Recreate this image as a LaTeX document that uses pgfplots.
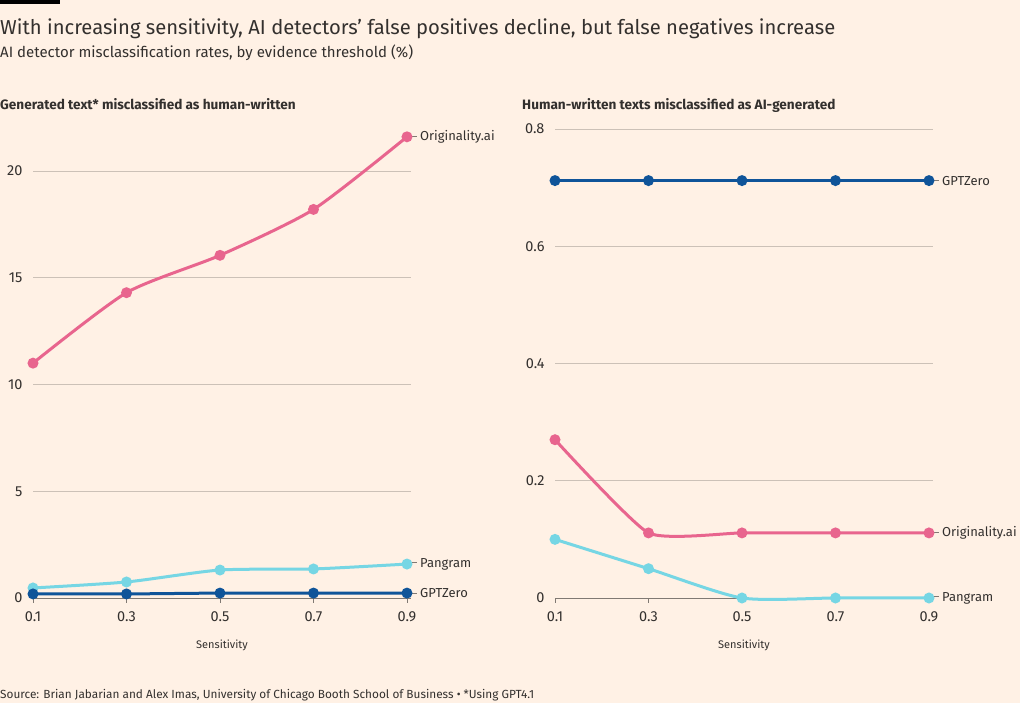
\documentclass[border=0pt]{standalone}
\usepackage{fontspec}
\setmainfont{Fira Sans}
\usepackage{pgfplots}
\pgfplotsset{compat=1.18}
\definecolor{bg}{HTML}{FFF1E5}
\definecolor{txt}{HTML}{33302E}
\definecolor{gridc}{HTML}{CCC1B7}
\definecolor{axisc}{HTML}{807973}
\definecolor{pinkc}{HTML}{E8658E}
\definecolor{bluec}{HTML}{0F5499}
\definecolor{cyanc}{HTML}{76D6E4}
\pgfplotsset{
  ftaxis/.style={
    scale only axis, width=378pt,
    xmin=0.1, xmax=0.9086, ymin=0,
    clip=false,
    axis x line*=bottom, axis y line*=left,
    x axis line style={draw=axisc, line width=0.8pt, -},
    y axis line style={draw=none},
    ymajorgrids, grid style={gridc, line width=0.8pt},
    xtick={0.1,0.3,0.5,0.7,0.9},
    xticklabels={0.1,0.3,0.5,0.7,0.9},
    xtick align=outside, xtick pos=bottom,
    major tick length=5pt,
    xtick style={draw=axisc, line width=0.8pt},
    ytick style={draw=none},
    /pgf/number format/assume math mode=true,
    tick label style={font=\fontsize{14.5}{16}\selectfont, text=txt},
    yticklabel style={anchor=east, xshift=-7pt},
    xticklabel style={yshift=-5pt},
    xlabel={Sensitivity},
    xlabel style={font=\fontsize{11}{13}\selectfont, text=txt, yshift=-11pt},
    every axis plot/.append style={line width=3pt, mark=*, mark size=3.9pt, smooth, tension=0.4},
  },
}
\newcommand{\dash}{\textcolor{axisc}{\rule[0.32em]{5pt}{0.8pt}}\hspace{3pt}}
\tikzset{slabel/.style={anchor=west, inner sep=0pt, xshift=5pt, font=\fontsize{13}{15}\selectfont, text=txt}}
\begin{document}
\begin{tikzpicture}[x=1pt,y=1pt]
\fill[bg] (0,0) rectangle (1020,703);
\useasboundingbox (0,0) rectangle (1020,703);
\fill[black] (0,699) rectangle (60,703);
\node[anchor=base west, inner sep=0pt, text=txt, font=\fontsize{20.2}{24}\selectfont] at (0,668) {With increasing sensitivity, AI detectors’ false positives decline, but false negatives increase};
\node[anchor=base west, inner sep=0pt, text=txt, font=\fontsize{15}{17}\selectfont] at (0,645) {AI detector misclassification rates, by evidence threshold (\%)};
\node[anchor=base west, inner sep=0pt, text=txt, font=\bfseries\fontsize{13.6}{15}\selectfont] at (0,593) {Generated text* misclassified as human-written};
\node[anchor=base west, inner sep=0pt, text=txt, font=\bfseries\fontsize{13.6}{15}\selectfont] at (522,593) {Human-written texts misclassified as AI-generated};
\node[anchor=base west, inner sep=0pt, text=txt, font=\fontsize{11.8}{13}\selectfont] at (0,4) {Source: Brian Jabarian and Alex Imas, University of Chicago Booth School of Business • *Using GPT4.1};

\begin{axis}[ftaxis, at={(33pt,105pt)}, anchor=south west, height=469.7pt, ymax=22,
  ytick={0,5,10,15,20}, yticklabels={0,5,10,15,20}]
\addplot[color=pinkc] coordinates {(0.1,11.0) (0.3,14.3) (0.5,16.05) (0.7,18.2) (0.9,21.6)};
\addplot[color=cyanc] coordinates {(0.1,0.47) (0.3,0.75) (0.5,1.31) (0.7,1.36) (0.9,1.59)};
\addplot[color=bluec] coordinates {(0.1,0.19) (0.3,0.19) (0.5,0.23) (0.7,0.23) (0.9,0.23)};
\node[slabel] at (axis cs:0.9,21.6) {\dash Originality.ai};
\node[slabel] at (axis cs:0.9,1.59) {\dash Pangram};
\node[slabel] at (axis cs:0.9,0.23) {\dash GPTZero};
\end{axis}

\begin{axis}[ftaxis, at={(555pt,105pt)}, anchor=south west, height=469pt, ymax=0.8,
  ytick={0,0.2,0.4,0.6,0.8}, yticklabels={0,0.2,0.4,0.6,0.8}]
\addplot[color=bluec] coordinates {(0.1,0.712) (0.3,0.712) (0.5,0.712) (0.7,0.712) (0.9,0.712)};
\addplot[color=pinkc, tension=0.3] coordinates {(0.1,0.270) (0.3,0.111) (0.5,0.111) (0.7,0.111) (0.9,0.111)};
\addplot[color=cyanc] coordinates {(0.1,0.100) (0.3,0.050) (0.5,0.0) (0.7,0.0) (0.9,0.0)};
\node[slabel] at (axis cs:0.9,0.712) {\dash GPTZero};
\node[slabel] at (axis cs:0.9,0.111) {\dash Originality.ai};
\node[slabel] at (axis cs:0.9,0) {\dash Pangram};
\end{axis}
\end{tikzpicture}
\end{document}
